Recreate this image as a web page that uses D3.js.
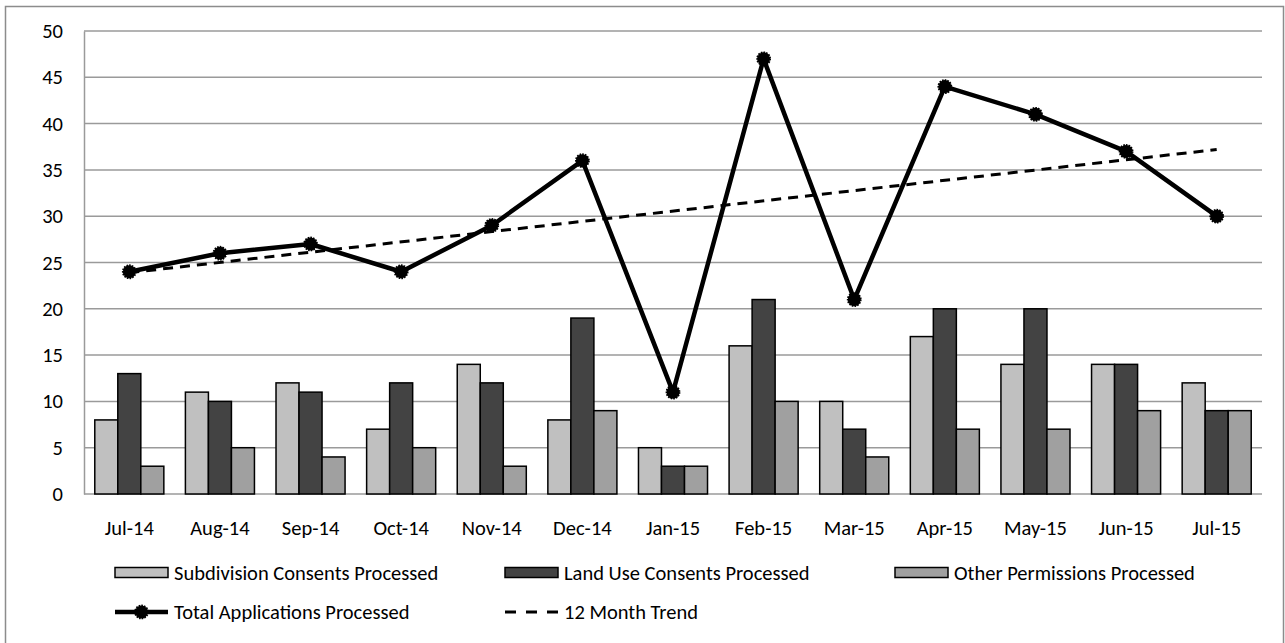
<!DOCTYPE html>
<html>
<head>
<meta charset="utf-8">
<script src="https://cdn.jsdelivr.net/npm/d3@7"></script>
<style>
  html, body { margin: 0; padding: 0; background: #fff; }
  svg { display: block; font-family: Carlito, Calibri, Lato, sans-serif; }
</style>
</head>
<body>
<svg id="chart" width="1285" height="643"></svg>
<script>
// Monthly consent processing figures
const months = ["Jul-14","Aug-14","Sep-14","Oct-14","Nov-14","Dec-14","Jan-15",
                "Feb-15","Mar-15","Apr-15","May-15","Jun-15","Jul-15"];
const subdivision = [8, 11, 12, 7, 14, 8, 5, 16, 10, 17, 14, 14, 12];
const landUse     = [13, 10, 11, 12, 12, 19, 3, 21, 7, 20, 20, 14, 9];
const other       = [3, 5, 4, 5, 3, 9, 3, 10, 4, 7, 7, 9, 9];
const total       = [24, 26, 27, 24, 29, 36, 11, 47, 21, 44, 41, 37, 30];
// Straight trend line: value at the first and last month
const trendMonths = ["Jul-14", "Jul-15"];
const trendValues = [23.9, 37.2];
const yTicks = [0, 5, 10, 15, 20, 25, 30, 35, 40, 45, 50];

const barSeries = [
  { name: "Subdivision Consents Processed", values: subdivision, fill: "#c0c0c0" },
  { name: "Land Use Consents Processed",    values: landUse,     fill: "#434343" },
  { name: "Other Permissions Processed",    values: other,       fill: "#a0a0a0" }
];

const svg = d3.select("#chart");
const plotLeft = 84, plotRight = 1262, plotTop = 31, plotBottom = 494;
const gridColor = "#9a9a9a";
const fontSize = 20.5;
const fontFamily = "Carlito, Calibri, Lato, sans-serif";

// outer chart frame
svg.append("rect")
  .attr("x", 5.5).attr("y", 6.5).attr("width", 1278).attr("height", 640)
  .attr("fill", "none").attr("stroke", "#8c8c8c").attr("stroke-width", 1.5);

const x = d3.scaleBand().domain(months).range([plotLeft, plotRight])
  .paddingInner(0.238).paddingOuter(0.119);
const xs = d3.scaleBand().domain(d3.range(barSeries.length)).range([0, x.bandwidth()]);
const y = d3.scaleLinear().domain([0, 50]).range([plotBottom, plotTop]);
const xc = m => x(m) + x.bandwidth() / 2;

// horizontal gridlines
svg.append("g").selectAll("line").data(yTicks).join("line")
  .attr("x1", plotLeft).attr("x2", plotRight)
  .attr("y1", d => y(d)).attr("y2", d => y(d))
  .attr("stroke", gridColor).attr("stroke-width", 1.5);

// y axis
const yAxis = svg.append("g").attr("transform", `translate(${plotLeft},0)`)
  .call(d3.axisLeft(y).tickValues(yTicks).tickSize(0).tickPadding(21));
yAxis.select(".domain").attr("stroke", gridColor).attr("stroke-width", 1.5);
yAxis.selectAll("text").attr("font-size", fontSize).attr("fill", "#000")
  .attr("font-family", fontFamily);

// x axis labels
const xAxis = svg.append("g").attr("transform", `translate(0,${plotBottom})`)
  .call(d3.axisBottom(x).tickSize(0).tickPadding(26));
xAxis.select(".domain").remove();
xAxis.selectAll("text").attr("font-size", fontSize).attr("fill", "#000")
  .attr("font-family", fontFamily);

// grouped bars
barSeries.forEach((s, i) => {
  svg.append("g").selectAll("rect").data(months).join("rect")
    .attr("x", (m) => x(m) + xs(i))
    .attr("y", (m, j) => y(s.values[j]))
    .attr("width", xs.bandwidth())
    .attr("height", (m, j) => y(0) - y(s.values[j]))
    .attr("fill", s.fill).attr("stroke", "#000").attr("stroke-width", 1.5);
});

// trend line (dashed)
svg.append("path")
  .datum(trendMonths.map((m, i) => [xc(m), y(trendValues[i])]))
  .attr("d", d3.line())
  .attr("fill", "none").attr("stroke", "#000").attr("stroke-width", 3)
  .attr("stroke-dasharray", "10,7");

// total line with markers
svg.append("path")
  .datum(months.map((m, i) => [xc(m), y(total[i])]))
  .attr("d", d3.line())
  .attr("fill", "none").attr("stroke", "#000").attr("stroke-width", 4.5)
  .attr("stroke-linejoin", "round");

function marker(g, cx, cy) {
  g.append("circle").attr("cx", cx).attr("cy", cy).attr("r", 6.5)
    .attr("fill", "#000").attr("stroke", "#000").attr("stroke-width", 1.8)
    .attr("stroke-dasharray", "1.6,1.1");
}
const mk = svg.append("g");
months.forEach((m, i) => marker(mk, xc(m), y(total[i])));

// legend
const legend = svg.append("g").attr("font-size", fontSize).attr("font-family", fontFamily);
const row1 = 572.5, row2 = 612;
const cols = [115, 505, 895];
barSeries.forEach((s, i) => {
  legend.append("rect")
    .attr("x", cols[i]).attr("y", row1 - 5).attr("width", 53).attr("height", 10)
    .attr("fill", s.fill).attr("stroke", "#000").attr("stroke-width", 1.5);
  legend.append("text").attr("x", cols[i] + 59).attr("y", row1)
    .attr("dy", "0.35em").text(s.name);
});
legend.append("line").attr("x1", cols[0]).attr("x2", cols[0] + 53)
  .attr("y1", row2).attr("y2", row2)
  .attr("stroke", "#000").attr("stroke-width", 4.5);
marker(legend, cols[0] + 26.5, row2);
legend.append("text").attr("x", cols[0] + 59).attr("y", row2)
  .attr("dy", "0.35em").text("Total Applications Processed");
legend.append("line").attr("x1", cols[1]).attr("x2", cols[1] + 53)
  .attr("y1", row2).attr("y2", row2)
  .attr("stroke", "#000").attr("stroke-width", 3).attr("stroke-dasharray", "11,10");
legend.append("text").attr("x", cols[1] + 59).attr("y", row2)
  .attr("dy", "0.35em").text("12 Month Trend");
</script>
</body>
</html>
